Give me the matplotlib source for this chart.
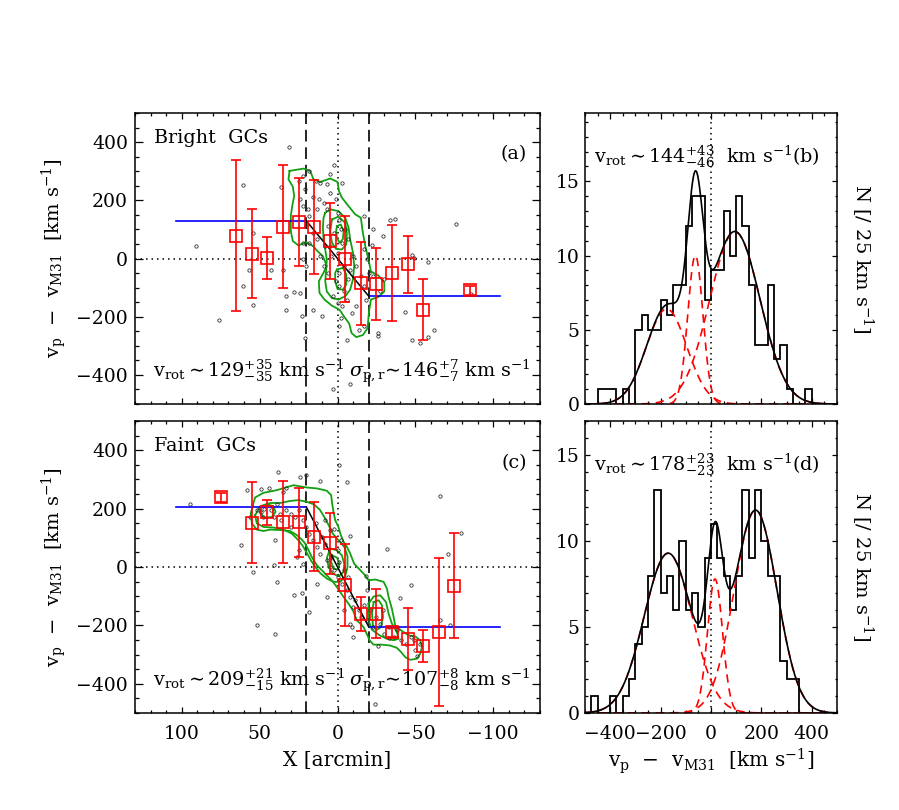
import numpy as np
import matplotlib
matplotlib.use("Agg")
import matplotlib.pyplot as plt
from matplotlib.ticker import MultipleLocator

plt.rcParams['font.family'] = 'DejaVu Serif'
plt.rcParams['mathtext.fontset'] = 'dejavuserif'
plt.rcParams['font.size'] = 13.5

# ---------------- panel (a): bright GCs ----------------
a_bin_x = [65, 55, 45, 35, 25, 15, 5, -5, -15, -25, -35, -45, -55, -85]
a_bin_v = [79, 17, 2, 109, 125, 108, 60, -3, -85, -87, -51, -20, -176, -109]
a_bin_err = [258, 153, 72, 212, 150, 162, 130, 148, 142, 123, 165, 97, 104, 15]
a_flat_v = 129

a_gc_x = [31, 61, 91, 76, 57, 61, 54, 54, 43, 36, 35, 33, 33, 28, 24, 23, 21, 22, 21, 18,
          16, 14, 11, 16, 10, 2, 3, -2, -1, -6, 3, -8, -23, -29, -34, -37, -22, -26, -26, -43,
          -48, -49, -58, -48, -53, -58, -62, -76, -86, -14, -17,
          25, 24, 22, 19, 18, 13, 12, 9, 7, 5, 1, 0, -1, -2, 2, 5, 4, 0, -3, -4,
          -1, 1, -1, -4, -7, -8, -10, -12, -15, -17, -18, -12, -9, -6, 6, 9, 11, 13, 16, 20,
          18, 8, 6, -5, -7, 5, 7, -3, -17, -17, -19, -20, -23, -30, -27, 0, -3, 22, 22, 20]
a_gc_v = [382, 252, 43, -210, -40, -95, -159, 88, -40, 244, -38, -130, -176, -116, -118, -199, -274, 284, 240, 301,
          213, 266, 261, -178, -199, 321, -130, -205, -233, -279, -449, -431, 100, 77, 132, 137, 48, -256, -266, -185,
          13, 1, -11, -279, -289, -270, -247, 120, -121, -245, -233,
          267, 203, 180, 169, 146, 169, 203, 192, 169, 226, 203, 157, 134, 100, 88, 43, 8, 20, 54, -26,
          -49, -78, -95, -113, -72, -38, 8, -26, -61, -95, -141, -164, -187, -141, -49, -26, 8, 66, 89, 111,
          54, 43, 111, 100, 66, 290, 255, 261, 146, 31, -3, -49, -61, -72, -113, -153, -164, 54, -3, -26]

# density contours, outer to inner
a_outer_x = [30.8, 21.8, 17.6, 15.4, 11.1, 4.7, 0, -0.9, -2.8, -7.1, -11.3, -15.0, -16.1, -17.8, -19.9,
             -21.4, -26.3, -30.0, -30.0, -26.3, -21.4, -20.1, -19.3, -16.3, -12.0, -9.0, -7.5, -3.9, -1.3,
             3.6, 8.4, 11.6, 12.0, 9.0, 6.9, 9.4, 12.8, 15.8, 20.1, 25.1, 28.7, 30.0, 30.0, 29.1, 27.8,
             28.7, 31.5, 30.8]
a_outer_v = [301, 309, 301, 272, 263, 275, 263, 232, 209, 180, 152, 140, 94, 43, -3,
             -44, -59, -82, -113, -132, -141, -187, -239, -263, -270, -256, -224, -197, -176,
             -162, -141, -118, -78, -49, -26, 8, 25, 43, 56, 45, 60, 94, 146, 180, 215,
             247, 272, 301]
a_mid_x = [7.9, 4.7, -0.6, -4.9, -7.1, -8.1, -9.9, -10.7, -9.9, -8.1, -4.9, -0.6, 3.6, 6.9, 7.9,
           7.3, 6.9, 7.9, 9.0, 9.4, 9.0, 7.9]
a_mid_v = [157, 169, 163, 140, 106, 66, 20, -26, -72, -107, -130, -141, -136, -113, -78,
           -38, -3, 31, 66, 106, 140, 157]
a_in1_x = [3.6, -0.6, -4.9, -6.0, -5.6, -2.8, 0.9, 3.6, 4.7, 3.6]
a_in1_v = [134, 144, 123, 89, 48, 31, 33, 54, 94, 134]
a_in2_x = [0.4, -2.1, -3.9, -3.4, -1.3, 0.4, 0.9, 0.4]
a_in2_v = [111, 117, 94, 66, 54, 71, 94, 111]
a_in3_x = [0.4, -3.4, -5.6, -5.6, -3.4, 0, 1.5, 1.5, 0.4]
a_in3_v = [-38, -32, -55, -90, -107, -105, -78, -49, -38]

# ---------------- panel (c): faint GCs ----------------
c_bin_x = [75, 55, 45, 35, 25, 15, 5, -5, -15, -25, -35, -45, -55, -65, -75]
c_bin_v = [238, 152, 187, 153, 153, 103, 81, -62, -160, -160, -224, -246, -271, -222, -64]
c_bin_err = [15, 140, 43, 141, 118, 118, 104, 141, 58, 83, 15, 107, 56, 254, 179]
c_flat_v = 205

c_gc_x = [95, 62, 58, 54, 52, 49, 44, 40, 40, 41, 39, 38, 33, 35, 28, 26, 23, 24, 20, 18,
          11, -1, -6, -8, -9, -10, -18, -19, -32, -26, -24, -33, -40, -47, -49, -51, -66, -66, -71, -72,
          -79,
          52, 49, 47, 43, 41, 37, 33, 30, 27, 25, 22, 20, 18, 16, 14, 13, 11, 10, 8, 7,
          5, 4, 2, 2, 0, -1, -3, -4, -6, -7, -8, -10, -11, -14, -15, -17, -19, -21, -23, -25,
          -27, -29, -30, -33, -36, -38, -41, -44, -47, -50, -53, -8, -4, 7, 13, 22, 25, 30, 36, 39,
          48, 56, 0, -2, 5, 8]
c_gc_v = [217, 74, 265, -17, -200, 266, 271, -229, 94, 8, -51, 326, 269, 257, -97, 34, -89, 309, 314, -154,
          295, 349, 291, 105, -206, -240, -31, -80, 63, -269, -469, -243, -106, -63, -249, -306, 242, -183, 43, -200,
          117,
          194, 189, 200, 194, 171, 183, 194, 183, 171, 194, 160, 137, 114, 91, 149, 69, 46, 103, 80, 23,
          0, 34, -11, 131, -34, 17, -57, -11, -80, -34, -103, -137, -114, -149, -171, -131, -183, -149, -206, -171,
          -194, -149, -229, -206, -240, -217, -251, -263, -240, -286, -263, -194, -149, -103, -57, 11, 57, 137, 160, 217,
          171, 171, 57, 91, 126, 160]

c_outer_x = [54.4, 52.9, 47.5, 39.0, 28.3, 19.7, 13.3, 6.9, 4.1, 3.6, 2.6, 1.5, -0.6, -2.1, -3.9,
             -6.0, -8.1, -10.7, -14.6, -17.8, -19.9, -24.2, -29.6, -31.7, -32.8, -34.9, -36.0, -37.0,
             -40.7, -45.6, -49.9, -53.1, -54.2, -53.1, -51.0, -46.7, -43.5, -40.7, -38.1, -33.8, -28.5,
             -23.1, -20.6, -18.8, -16.7, -14.6, -12.4, -9.9, -7.1, -3.9, 0.4, 3.6, 6.9, 10.1, 13.3, 16.5,
             18.6, 20.8, 22.9, 26.1, 30.4, 35.8, 43.3, 47.5, 51.8, 55.0, 55.7, 54.4]
c_outer_v = [211, 238, 254, 263, 280, 272, 269, 261, 246, 223, 189, 160, 137, 109, 86,
             69, 46, 11, -11, -29, -46, -43, -51, -74, -103, -143, -171, -200,
             -217, -234, -238, -251, -274, -297, -314, -318, -309, -291, -277, -269, -266,
             -266, -251, -229, -206, -194, -183, -149, -126, -103, -69, -46, -29, -11, 6, 34,
             57, 80, 94, 109, 123, 126, 128, 123, 128, 149, 183, 211]
c_mid1_x = [52.9, 49.7, 43.2, 36.8, 30.4, 25.0, 19.7, 15.4, 11.5, 8.5, 5.7, 3.0, -0.7, -4.3, -6.4,
            -6.4, -4.9, -1.7, 2.5, 6.8, 11.1, 14.3, 17.1, 19.7, 22.2, 25.0, 29.3, 34.7, 41.1, 47.5,
            51.8, 52.9]
c_mid1_v = [177, 208, 219, 219, 226, 229, 223, 215, 197, 171, 143, 114, 91, 69, 37,
            0, -32, -51, -51, -40, -21, 0, 23, 48, 71, 91, 114, 128, 135, 137,
            149, 177]
c_mid2_x = [-19.9, -23.2, -27.4, -31.1, -32.8, -34.9, -38.1, -39.2, -36.0, -31.7, -27.0, -22.1, -19.9, -19.9]
c_mid2_v = [-126, -101, -97, -120, -160, -194, -223, -246, -251, -246, -234, -215, -183, -126]
c_in1_x = [49.7, 45.4, 41.1, 39.8, 42.2, 47.1, 49.7, 49.7]
c_in1_v = [203, 215, 208, 189, 171, 169, 185, 203]
c_in2_x = [4.7, 0.4, -2.8, -4.3, -3.9, -0.7, 3.0, 5.8, 6.8, 4.7]
c_in2_v = [63, 57, 40, 11, -17, -32, -23, 0, 32, 63]
c_in3_x = [3.6, 0.4, -1.3, 0, 2.5, 4.1, 3.6]
c_in3_v = [40, 32, 11, -9, -6, 17, 40]
c_in4_x = [-23.2, -26.4, -28.5, -29.2, -27.9, -25.3, -22.7, -22.1, -23.2]
c_in4_v = [-120, -114, -131, -171, -206, -215, -200, -160, -120]

# ---------------- velocity histograms, 25 km/s bins from -500 ----------------
hist_edges = np.arange(-500, 501, 25)
b_counts = [0, 0, 1, 1, 1, 0, 1, 0, 5, 6, 5, 5, 7, 6, 8, 8, 12, 14, 14, 7,
            9, 9, 13, 10, 14, 12, 8, 4, 4, 8, 3, 4, 1, 0, 0, 1, 0, 0, 0, 0]
d_counts = [0, 1, 0, 0, 1, 0, 1, 2, 4, 5, 8, 13, 7, 8, 6, 10, 6, 7, 5, 9,
            11, 9, 8, 6, 8, 13, 9, 13, 10, 8, 8, 3, 2, 2, 0, 0, 0, 0, 0, 0]

# three-gaussian fits: amplitude, centre, sigma
b_amp = [6.4, 10.0, 11.6]
b_cen = [-176, -62, 95]
b_sig = [80, 30, 100]
d_amp = [9.3, 7.8, 11.8]
d_cen = [-170, 16, 177]
d_sig = [95, 30, 85]

GREEN = '#12a012'
DOT = (0, (1, 2.6))
DASH = (0, (7, 3.5))
ANN = 13.8


def vlabel():
    return r'v$_\mathrm{p}$  $-$  v$_\mathrm{M31}$  [km s$^{-1}$]'


def rot_text(v, up, lo):
    return r'$\mathrm{v_{rot}}$$\sim$' + f'{v}' + r'$^{+%d}_{-%d}$' % (up, lo) + r' km s$^{-1}$'


def sig_text(v, up, lo):
    return r'$\sigma_{\rm p,r}\!\sim\!$' + f'{v}' + r'$^{+%d}_{-%d}$' % (up, lo) + r' km s$^{-1}$'


def left_panel(ax, gc_x, gc_v, contours, bin_x, bin_v, bin_err, flat_v,
               name, tag, vrot, sig):
    ax.set_xlim(130, -130)
    ax.set_ylim(-500, 500)
    ax.axhline(0, color='k', lw=1.1, ls=DOT)
    ax.axvline(0, color='k', lw=1.1, ls=DOT)
    for xv in (20, -20):
        ax.axvline(xv, color='k', lw=1.2, ls=DASH)
    for cx, cv in contours:
        ax.plot(cx, cv, color=GREEN, lw=1.3)
    ax.plot(gc_x, gc_v, 'o', ms=2.4, mfc='none', mec='#222222', mew=0.55)
    ax.plot([104, 20], [flat_v, flat_v], color='#0000ff', lw=1.2)
    ax.plot([-20, -104], [-flat_v, -flat_v], color='#0000ff', lw=1.2)
    ax.plot([20, -20], [flat_v, -flat_v], color='k', lw=1.1)
    ax.errorbar(bin_x, bin_v, yerr=bin_err, fmt='s', ms=8, mfc='none', mec='#ff0000',
                mew=1.2, ecolor='#ff0000', elinewidth=1.2, capsize=3.5, capthick=1.2)
    ax.xaxis.set_major_locator(MultipleLocator(50))
    ax.xaxis.set_minor_locator(MultipleLocator(10))
    ax.yaxis.set_major_locator(MultipleLocator(200))
    ax.yaxis.set_minor_locator(MultipleLocator(50))
    ax.tick_params(axis='x', which='major', direction='in', top=True, length=4.3, width=0.9, pad=9)
    ax.tick_params(axis='x', which='minor', direction='in', top=True, length=2.2, width=0.9)
    ax.tick_params(axis='y', which='major', direction='in', right=True, length=5.8, width=0.9, pad=5)
    ax.tick_params(axis='y', which='minor', direction='in', right=True, length=2.9, width=0.9)
    ax.text(0.048, 0.945, name, transform=ax.transAxes, ha='left', va='top', fontsize=ANN)
    ax.text(0.968, 0.84, tag, transform=ax.transAxes, ha='right', va='baseline', fontsize=ANN)
    ax.text(0.045, 0.092, vrot, transform=ax.transAxes, ha='left', va='baseline', fontsize=ANN)
    ax.text(0.977, 0.092, sig, transform=ax.transAxes, ha='right', va='baseline', fontsize=ANN)
    ax.set_ylabel(vlabel(), fontsize=14)
    ax.yaxis.set_label_coords(-0.162, 0.5)


def right_panel(ax, counts, amp, cen, sig, ymax, text):
    ax.set_xlim(-500, 500)
    ax.set_ylim(0, ymax)
    ax.axvline(0, color='k', lw=1.1, ls=DOT)
    xs = np.linspace(-500, 500, 801)
    comps = [a * np.exp(-(xs - m) ** 2 / (2 * s ** 2)) for a, m, s in zip(amp, cen, sig)]
    for comp in comps:
        ax.plot(xs, comp, color='#ff0000', lw=1.2, ls=(0, (5, 3.5)))
    ax.stairs(counts, hist_edges, color='k', lw=1.3, baseline=0)
    ax.plot(xs, np.sum(comps, axis=0), color='k', lw=1.2)
    ax.xaxis.set_major_locator(MultipleLocator(200))
    ax.xaxis.set_minor_locator(MultipleLocator(50))
    ax.yaxis.set_major_locator(MultipleLocator(5))
    ax.yaxis.set_minor_locator(MultipleLocator(1))
    ax.tick_params(axis='x', which='major', direction='in', top=True, length=4.3, width=0.9, pad=9)
    ax.tick_params(axis='x', which='minor', direction='in', top=True, length=2.2, width=0.9)
    ax.tick_params(axis='y', which='major', direction='in', right=True, length=3.6, width=0.9, pad=4)
    ax.tick_params(axis='y', which='minor', direction='in', right=True, length=1.8, width=0.9)
    ax.text(0.035, 0.83, text, transform=ax.transAxes, ha='left', va='baseline', fontsize=ANN)
    ax.set_ylabel(r'N [/ 25 km s$^{-1}$]', rotation=-90, va='center', fontsize=14)
    ax.yaxis.set_label_position('right')
    ax.yaxis.set_label_coords(1.15, 0.5)


fig = plt.figure(figsize=(8.99, 8.10), dpi=100)
ax_a = fig.add_axes([0.1502, 0.5012, 0.4505, 0.3593])
ax_b = fig.add_axes([0.6507, 0.5012, 0.2803, 0.3593])
ax_c = fig.add_axes([0.1502, 0.1198, 0.4505, 0.3605])
ax_d = fig.add_axes([0.6507, 0.1198, 0.2803, 0.3605])

for ax in (ax_a, ax_b, ax_c, ax_d):
    for sp in ax.spines.values():
        sp.set_linewidth(1.1)

left_panel(ax_a, a_gc_x, a_gc_v,
           [(a_outer_x, a_outer_v), (a_mid_x, a_mid_v), (a_in1_x, a_in1_v),
            (a_in2_x, a_in2_v), (a_in3_x, a_in3_v)],
           a_bin_x, a_bin_v, a_bin_err, a_flat_v, 'Bright  GCs', '(a)',
           rot_text(129, 35, 35), sig_text(146, 7, 7))
left_panel(ax_c, c_gc_x, c_gc_v,
           [(c_outer_x, c_outer_v), (c_mid1_x, c_mid1_v), (c_mid2_x, c_mid2_v),
            (c_in1_x, c_in1_v), (c_in2_x, c_in2_v), (c_in3_x, c_in3_v), (c_in4_x, c_in4_v)],
           c_bin_x, c_bin_v, c_bin_err, c_flat_v, 'Faint  GCs', '(c)',
           rot_text(209, 21, 15), sig_text(107, 8, 8))
ax_a.tick_params(axis='x', labelbottom=False)
ax_c.set_xlabel('X [arcmin]', fontsize=14.5)
ax_c.xaxis.set_label_coords(0.5, -0.13)

right_panel(ax_b, b_counts, b_amp, b_cen, b_sig, 19.6,
            r'$\mathrm{v_{rot}}$$\sim$144$^{+43}_{-46}$  km s$^{-1}$(b)')
right_panel(ax_d, d_counts, d_amp, d_cen, d_sig, 17.0,
            r'$\mathrm{v_{rot}}$$\sim$178$^{+23}_{-23}$  km s$^{-1}$(d)')
ax_b.tick_params(axis='x', labelbottom=False)
ax_d.set_xlabel(vlabel(), fontsize=14.5)
ax_d.xaxis.set_label_coords(0.5, -0.115)

fig.savefig('out.png', dpi=100)
